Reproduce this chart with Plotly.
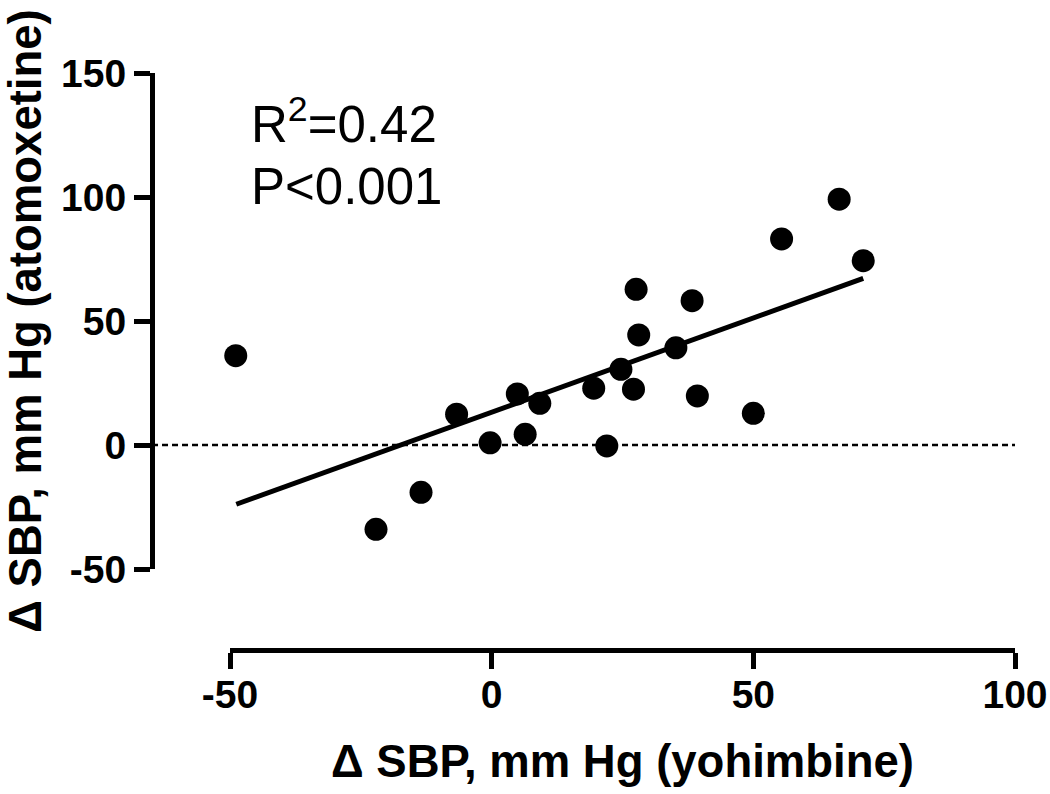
import plotly.graph_objects as go

# Data
x_yohimbine = [-48.9, -22.1, -13.5, -6.7, -0.3, 4.9, 6.4, 9.2, 19.5, 22.0, 24.7,
               27.1, 27.6, 28.1, 35.2, 38.3, 39.3, 50.0, 55.4, 66.4, 71.0]
y_atomoxetine = [36.0, -34.0, -19.1, 12.4, 0.9, 20.6, 4.3, 16.8, 22.9, -0.4, 30.5,
                 22.5, 62.8, 44.4, 39.2, 58.2, 19.8, 12.8, 83.1, 99.1, 74.3]
fit_x = [-48.8, 71.0]
fit_y = [-23.9, 67.2]
zero_x = [-64.9, 100]
zero_y = [0, 0]

x_ticks = [-50, 0, 50, 100]
y_ticks = [-50, 0, 50, 100, 150]

W, H = 1050, 794
FONT = "Liberation Sans, Arial, Helvetica, sans-serif"

fig = go.Figure()

# dashed zero reference line (spans from y-axis to x=100)
fig.add_trace(go.Scatter(x=zero_x, y=zero_y, mode="lines", xaxis="x", yaxis="y",
                         line=dict(color="black", width=2.5, dash="6px,4px"),
                         hoverinfo="skip", showlegend=False))
# regression line
fig.add_trace(go.Scatter(x=fit_x, y=fit_y, mode="lines", xaxis="x2", yaxis="y",
                         line=dict(color="black", width=5), cliponaxis=False,
                         showlegend=False))
# points
fig.add_trace(go.Scatter(x=x_yohimbine, y=y_atomoxetine, mode="markers",
                         xaxis="x2", yaxis="y", cliponaxis=False,
                         marker=dict(color="black", size=23), showlegend=False))

xr_lo = -50 - (230 - 152) / ((1015 - 230) / 150)

fig.update_layout(
    width=W, height=H, autosize=False,
    margin=dict(l=0, r=0, t=0, b=0, pad=0),
    paper_bgcolor="white", plot_bgcolor="rgba(0,0,0,0)",
    font=dict(family=FONT, color="black"),
    xaxis=dict(domain=[152 / W, 1015 / W], range=[xr_lo, 100],
               visible=False, anchor="y", fixedrange=True, automargin=False),
    xaxis2=dict(domain=[230 / W, 1015 / W], range=[-50, 100],
                anchor="free", position=1 - 650 / H, automargin=False,
                showline=True, linewidth=5, linecolor="black",
                ticks="outside", ticklen=16, tickwidth=5, tickcolor="black",
                tickvals=x_ticks, ticktext=[str(v) for v in x_ticks],
                tickfont=dict(size=39, family=FONT, weight="bold"),
                ticklabelstandoff=-8,
                showgrid=False, zeroline=False,
                title=dict(text="\u0394 SBP, mm Hg (yohimbine)",
                           font=dict(size=45.5, family=FONT, weight="bold"),
                           standoff=30)),
    yaxis=dict(domain=[1 - 569 / H, 1 - 73 / H], range=[-50, 150],
               anchor="free", position=152 / W, automargin=False,
               showline=True, linewidth=5, linecolor="black",
               ticks="outside", ticklen=16, tickwidth=5, tickcolor="black",
               tickvals=y_ticks, ticktext=[str(v) for v in y_ticks],
               tickfont=dict(size=39, family=FONT, weight="bold"),
               showgrid=False, zeroline=False,
               title=dict(text="\u0394 SBP, mm Hg (atomoxetine)",
                          font=dict(size=45.5, family=FONT, weight="bold"),
                          standoff=8)),
    annotations=[
        dict(text="R<sup>2</sup>=0.42", xref="paper", yref="paper",
             x=249 / W, y=1 - 121 / H, xanchor="left", yanchor="middle",
             showarrow=False, font=dict(size=51, family=FONT, color="black")),
        dict(text="P<0.001", xref="paper", yref="paper",
             x=249 / W, y=1 - 186 / H, xanchor="left", yanchor="middle",
             showarrow=False, font=dict(size=51, family=FONT, color="black")),
    ],
)

fig.write_html(
    "out.html",
    config={"displayModeBar": False, "staticPlot": True},
    post_script="document.body.style.margin='0';document.body.style.overflow='hidden';",
)
